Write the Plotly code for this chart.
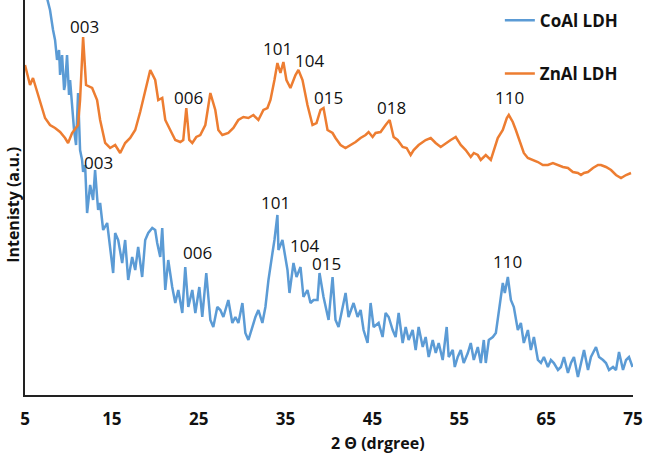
import plotly.graph_objects as go

zn_2theta = [5.00, 5.58, 5.92, 6.73, 7.31, 7.88, 8.46, 9.04, 9.61, 9.96, 10.42, 11.11, 11.34, 11.69,
             12.03, 12.73, 13.30, 13.65, 14.23, 14.80, 15.38, 15.96, 16.53, 17.11, 17.69, 18.26, 18.84,
             19.42, 19.99, 20.34, 20.80, 21.15, 21.72, 22.30, 22.88, 23.22, 23.57, 23.91, 24.26, 24.72,
             25.18, 25.76, 26.34, 26.91, 27.26, 27.72, 28.41, 28.99, 29.56, 30.14, 30.72, 31.29, 31.87,
             32.45, 32.91, 33.26, 33.72, 34.06, 34.41, 34.75, 35.10, 35.56, 36.14, 36.48, 36.95, 37.52,
             38.10, 38.56, 39.02, 39.37, 39.83, 40.41, 40.75, 41.33, 41.90, 42.48, 43.06, 43.63, 44.21,
             44.56, 45.02, 45.36, 45.94, 46.52, 46.98, 47.44, 47.90, 48.48, 48.94, 49.40, 49.75, 50.32,
             51.13, 51.71, 52.28, 52.86, 53.44, 54.01, 54.59, 55.17, 55.74, 56.32, 56.67, 57.13, 57.47,
             58.05, 58.63, 58.97, 59.43, 60.01, 60.47, 60.70, 61.16, 61.51, 62.09, 62.43, 62.89, 63.47,
             64.05, 64.62, 65.20, 65.78, 66.35, 66.93, 67.51, 68.08, 68.66, 69.01, 69.35, 69.81, 70.39,
             70.97, 71.31, 71.89, 72.47, 73.04, 73.62, 74.20, 74.77]
zn_int = [330, 310, 317, 295, 277, 270, 267, 263, 257, 252, 262, 270, 295, 358,
          310, 307, 295, 275, 252, 247, 250, 242, 252, 257, 265, 283, 305,
          325, 315, 295, 297, 275, 265, 255, 253, 255, 287, 255, 252, 258,
          260, 270, 302, 285, 265, 260, 262, 267, 275, 278, 277, 280, 275,
          285, 287, 295, 315, 332, 322, 333, 315, 307, 320, 325, 315, 290,
          270, 272, 285, 287, 265, 262, 257, 250, 247, 250, 253, 257, 260,
          263, 258, 262, 263, 270, 275, 258, 255, 248, 247, 240, 245, 250,
          255, 257, 252, 248, 252, 255, 258, 250, 245, 238, 242, 240, 235,
          240, 235, 245, 257, 265, 277, 280, 273, 265, 250, 242, 237, 235,
          233, 230, 230, 232, 230, 228, 227, 223, 222, 220, 222, 223, 227,
          230, 230, 228, 225, 220, 217, 220, 222]

co_2theta = [6.73, 7.31, 7.65, 7.88, 8.23, 8.46, 8.69, 8.92, 9.04, 9.27, 9.50, 9.61, 9.84, 10.07,
             10.19, 10.42, 10.65, 10.88, 11.11, 11.34, 11.57, 11.69, 11.92, 12.15, 12.50, 12.84, 13.07,
             13.30, 13.42, 13.65, 14.00, 14.46, 14.80, 15.15, 15.38, 15.73, 16.19, 16.53, 16.88, 17.34,
             17.69, 18.03, 18.49, 18.84, 19.19, 19.65, 19.99, 20.22, 20.57, 20.80, 21.15, 21.49, 21.95,
             22.30, 22.65, 23.11, 23.45, 23.80, 24.26, 24.61, 25.07, 25.41, 25.87, 26.34, 26.68, 27.14,
             27.49, 27.84, 28.41, 28.87, 29.22, 29.57, 30.03, 30.37, 30.72, 31.18, 31.53, 31.87, 32.33,
             32.68, 33.03, 33.49, 33.72, 34.06, 34.18, 34.64, 34.87, 35.22, 35.45, 35.91, 36.26, 36.72,
             37.06, 37.52, 37.87, 38.22, 38.68, 38.91, 39.37, 39.95, 40.41, 40.75, 41.10, 41.56, 41.91,
             42.25, 42.83, 43.29, 43.64, 43.98, 44.44, 44.79, 45.14, 45.71, 46.17, 46.52, 46.87, 47.33,
             47.67, 48.02, 48.48, 48.83, 49.17, 49.63, 49.98, 50.32, 50.79, 51.13, 51.48, 51.94, 52.29,
             52.63, 53.09, 53.55, 53.78, 54.25, 54.48, 54.82, 55.17, 55.51, 55.98, 56.32, 56.67, 57.13,
             57.48, 57.82, 58.05, 58.40, 58.86, 59.21, 59.55, 60.01, 60.24, 60.59, 60.94, 61.28, 61.74,
             62.09, 62.43, 62.90, 63.24, 63.59, 64.05, 64.40, 64.74, 65.20, 65.55, 65.89, 66.36, 66.70,
             67.05, 67.51, 67.86, 68.20, 68.66, 69.01, 69.36, 69.82, 70.16, 70.74, 71.09, 71.55, 71.89,
             72.24, 72.70, 73.04, 73.39, 73.85, 74.20, 74.54, 74.95]
co_int = [425, 405, 395, 385, 365, 355, 335, 345, 320, 340, 305, 310, 340, 300,
          315, 285, 265, 250, 302, 245, 235, 223, 230, 182, 210, 195, 225,
          198, 185, 192, 165, 172, 148, 122, 162, 155, 132, 155, 115, 138,
          125, 148, 118, 155, 162, 167, 165, 152, 138, 167, 105, 135, 108,
          92, 105, 82, 128, 88, 105, 82, 108, 78, 122, 75, 68, 88,
          85, 78, 95, 72, 78, 72, 92, 62, 55, 68, 78, 85, 72,
          88, 115, 142, 155, 180, 145, 155, 142, 125, 102, 132, 118, 128,
          98, 105, 92, 95, 95, 122, 98, 75, 118, 75, 68, 88, 102,
          78, 92, 78, 85, 65, 52, 92, 68, 72, 58, 82, 78, 65,
          58, 82, 52, 68, 55, 65, 45, 68, 48, 58, 38, 55, 42,
          52, 35, 68, 38, 45, 28, 38, 45, 32, 42, 52, 35, 48,
          32, 55, 32, 55, 58, 62, 85, 112, 102, 118, 95, 88, 65,
          72, 52, 65, 45, 58, 35, 32, 38, 28, 35, 32, 25, 28,
          38, 22, 32, 38, 18, 32, 45, 25, 38, 48, 38, 35, 32,
          25, 28, 25, 43, 25, 35, 38, 28]

# etiquetas de picos (hkl, 2θ, intensidad)
zn_hkl = ["003", "006", "101", "104", "015", "018", "110"]
zn_hkl_x = [11.80, 23.80, 34.06, 37.75, 39.94, 47.21, 60.82]
zn_hkl_y = [369, 298, 347, 335, 298, 288, 298]
co_hkl = ["003", "006", "101", "104", "015", "110"]
co_hkl_x = [13.42, 24.84, 33.83, 37.18, 39.71, 60.59]
co_hkl_y = [233, 143, 193, 150, 132, 134]

ticks_x = [5, 15, 25, 35, 45, 55, 65, 75]

AZUL = "#5B9BD5"
NARANJA = "#ED7D31"
FUENTE = "Open Sans"

fig = go.Figure()

fig.add_trace(go.Scatter(x=co_2theta, y=co_int, mode="lines", name="CoAl LDH",
                         line=dict(color=AZUL, width=2.5), legendgroup="co"))
fig.add_trace(go.Scatter(x=zn_2theta, y=zn_int, mode="lines", name="ZnAl LDH",
                         line=dict(color=NARANJA, width=2.5), legendgroup="zn"))

# ========== ETIQUETAS hkl ==========
for txt, x, y in list(zip(zn_hkl, zn_hkl_x, zn_hkl_y)) + list(zip(co_hkl, co_hkl_x, co_hkl_y)):
    fig.add_annotation(x=x, y=y, text=txt, showarrow=False,
                       font=dict(family=FUENTE, size=17, color="#111"))

# títulos de ejes como anotaciones
fig.add_annotation(text="2 Θ (drgree)", xref="paper", yref="paper", x=0.58, y=-0.122,
                   showarrow=False, yanchor="middle",
                   font=dict(family=FUENTE, size=16, color="#111", weight="bold"))
fig.add_annotation(text="Intenisty (a.u.)", xref="paper", yref="paper", x=-0.02, y=0.481,
                   showarrow=False, textangle=-90, xanchor="center", yanchor="middle",
                   font=dict(family=FUENTE, size=16, color="#111", weight="bold"))

fig.update_layout(
    width=645, height=461,
    plot_bgcolor="white", paper_bgcolor="white",
    margin=dict(l=25, r=12, t=0, b=66),
    showlegend=True,
    legend=dict(x=0.781, y=0.993, xanchor="left", yanchor="top",
                tracegroupgap=28, bgcolor="rgba(0,0,0,0)",
                font=dict(family=FUENTE, size=17, color="#111", weight="bold")),
)

fig.update_xaxes(range=[5, 75], tickvals=ticks_x, ticktext=[str(t) for t in ticks_x],
                 showgrid=False, zeroline=False, showline=True, linecolor="#222", linewidth=2,
                 ticks="", ticklabelstandoff=8,
                 tickfont=dict(family=FUENTE, size=17, color="#111", weight="bold"))
fig.update_yaxes(range=[0, 395], showticklabels=False, showgrid=False, zeroline=False,
                 showline=True, linecolor="#222", linewidth=2, ticks="")

# sin margen del body para que la figura quede en la esquina
fig.write_html("out.html", config={"displayModeBar": False},
               post_script="document.body.style.margin='0px';")
